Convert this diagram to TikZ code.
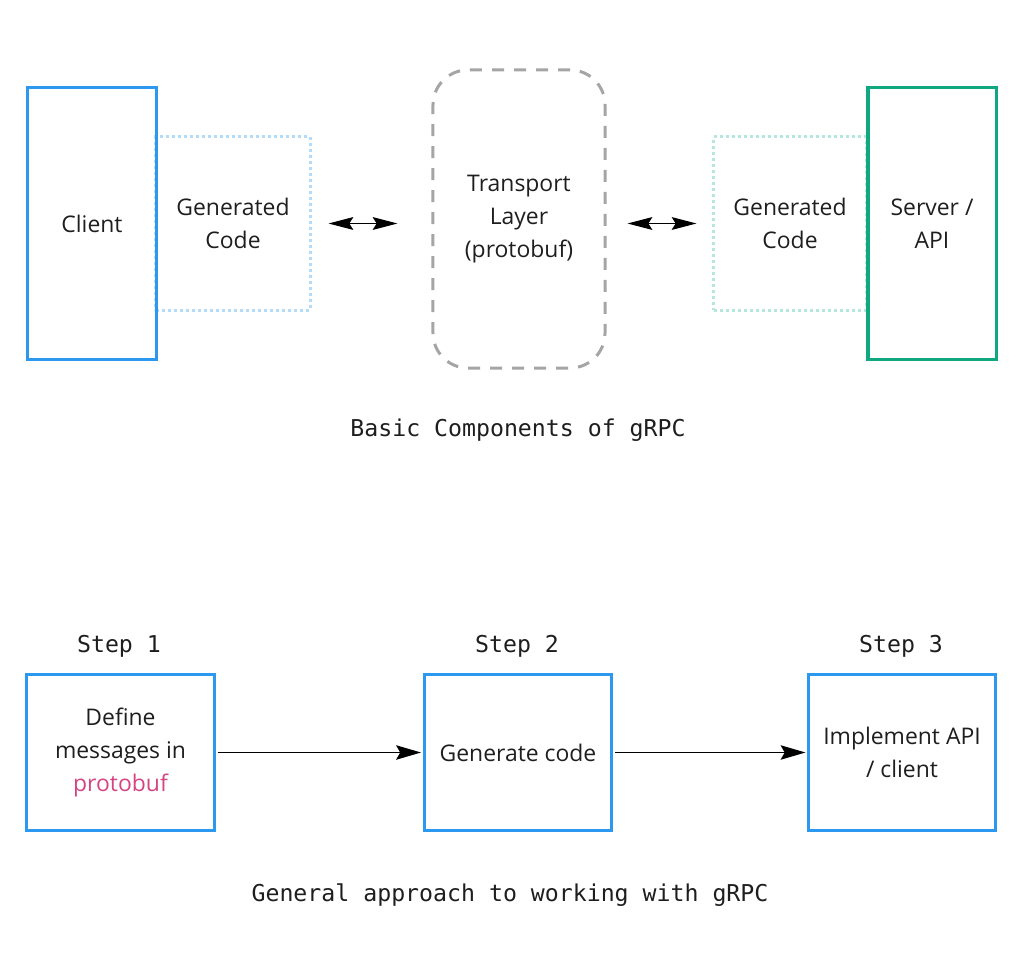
\documentclass[tikz,border=0pt]{standalone}
\usepackage{fontspec}
\setmainfont{Open Sans}
\newfontfamily\capfont{DejaVu Sans Mono}
\usetikzlibrary{arrows.meta}
\definecolor{boxblue}{RGB}{45,152,240}
\definecolor{boxgreen}{RGB}{16,168,128}
\definecolor{dotblue}{RGB}{178,220,250}
\definecolor{dotteal}{RGB}{180,232,222}
\definecolor{dashgrey}{RGB}{165,165,165}
\definecolor{protopink}{RGB}{212,68,130}
\definecolor{txt}{RGB}{30,30,30}
\tikzset{
	box/.style={draw=boxblue, line width=0.075cm, text=txt, align=center, font=\fontsize{16.3}{23.4}\selectfont},
	gencode/.style={draw, dash pattern=on 0.075cm off 0.075cm, line width=0.075cm, text=txt, align=center, minimum width=3.85cm, minimum height=4.325cm, font=\fontsize{16.3}{23.4}\selectfont},
	stepbox/.style={box, minimum width=4.675cm, minimum height=3.875cm, inner sep=0pt},
	caption/.style={text=txt, font=\capfont\fontsize{16.5}{20}\selectfont},
	dblarrow/.style={{Stealth[length=0.62cm, width=0.32cm, inset=0.1cm]}-{Stealth[length=0.62cm, width=0.32cm, inset=0.1cm]}, line width=0.035cm},
	onearrow/.style={-{Stealth[length=0.62cm, width=0.36cm, inset=0.1cm]}, line width=0.038cm}
}
\begin{document}
\begin{tikzpicture}[x=0.025cm, y=-0.025cm]
			%%%%% START %%%%%
			\useasboundingbox (0,0) rectangle (1023,977);
			
			\node[gencode, draw=dotblue] (genL) at (233,223.5) {Generated\\Code};
			\node[gencode, draw=dotteal, minimum width=3.8cm] (genR) at (790,223.5) {Generated\\Code};
			\node[box, minimum width=3.2cm, minimum height=6.775cm] (client) at (92,223.5) {Client};
			\node[box, draw=boxgreen, minimum width=3.2cm, minimum height=6.775cm] (server) at (932,223.5) {Server /\\API};
			
			\node[box, draw=dashgrey, dash pattern=on 0.3cm off 0.25cm, rounded corners=0.875cm, minimum width=4.3cm, minimum height=7.45cm] (transport) at (519,219) {Transport\\Layer\\(protobuf)};
			
			\draw[dblarrow, shorten <=0.425cm, shorten >=0.85cm] (genL.east) -- (transport.west |- genL.east);
			\draw[dblarrow, shorten <=0.525cm, shorten >=0.4cm] (transport.east |- genR.west) -- (genR.west);
			
			\node[caption] (cap1) at (518,430) {Basic Components of gRPC};
			
			\node[stepbox] (define) at (120.5,752.5) {Define\\messages in\\\textcolor{protopink}{protobuf}};
			\node[stepbox] (generate) at (518,752.5) {Generate code};
			\node[stepbox, minimum width=4.65cm] (implement) at (902,752.5) {Implement API\\/ client};
			
			\node[caption] at (119,646) {Step 1};
			\node[caption] at (517,646) {Step 2};
			\node[caption] at (901,646) {Step 3};
			
			\draw[onearrow, shorten <=0.05cm, shorten >=0.05cm] (define) -- (generate);
			\draw[onearrow, shorten <=0.05cm, shorten >=0.05cm] (generate) -- (implement);
			
			\node[caption] (cap2) at (510,895) {General approach to working with gRPC};
			%%%%% END %%%%%
\end{tikzpicture}
\end{document}
